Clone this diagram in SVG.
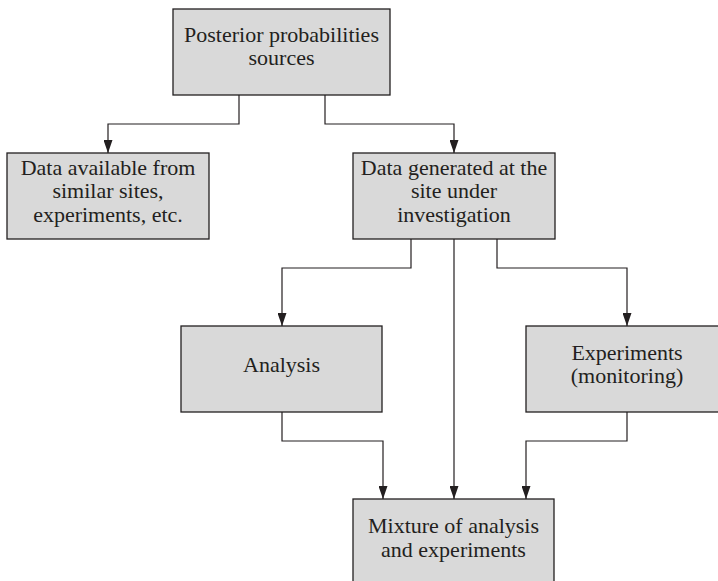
<svg xmlns="http://www.w3.org/2000/svg" width="718" height="581" viewBox="0 0 718 581">
  <style>
    .box { fill: #d9d9d9; stroke: #231f20; stroke-width: 1.3; }
    .lbl { font-family: "Liberation Serif", "Times New Roman", serif; font-size: 22px; fill: #231f20; text-anchor: middle; }
    .wire { fill: none; stroke: #231f20; stroke-width: 1.2; marker-end: url(#arrow); }
  </style>
  <defs>
    <marker id="arrow" markerUnits="userSpaceOnUse" markerWidth="13" markerHeight="9" viewBox="0 0 13 9" refX="13" refY="4.5" orient="auto">
      <path d="M0,0 L13,4.5 L0,9 Z" fill="#231f20"/>
    </marker>
  </defs>
  <rect width="718" height="581" fill="#ffffff"/>

  <g id="connectors">
    <path class="wire" d="M239,95 V124 H108 V153"/>
    <path class="wire" d="M325,95 V124 H454 V153"/>
    <path class="wire" d="M411,239 V268 H282 V326"/>
    <path class="wire" d="M497,239 V268 H627 V326"/>
    <path class="wire" d="M454,239 V499"/>
    <path class="wire" d="M282,412 V441 H383 V499"/>
    <path class="wire" d="M627,412 V441 H526 V499"/>
  </g>

  <g id="posterior-sources">
    <rect class="box" x="173" y="9" width="217" height="86"/>
    <text class="lbl" x="281.5" y="42">Posterior probabilities</text>
    <text class="lbl" x="281.5" y="65">sources</text>
  </g>

  <g id="similar-sites">
    <rect class="box" x="7" y="153" width="202" height="86"/>
    <text class="lbl" x="108" y="175">Data available from</text>
    <text class="lbl" x="108" y="198">similar sites,</text>
    <text class="lbl" x="108" y="222">experiments, etc.</text>
  </g>

  <g id="site-data">
    <rect class="box" x="353" y="153" width="202" height="86"/>
    <text class="lbl" x="454" y="175">Data generated at the</text>
    <text class="lbl" x="454" y="198">site under</text>
    <text class="lbl" x="454" y="222">investigation</text>
  </g>

  <g id="analysis">
    <rect class="box" x="181" y="326" width="201" height="86"/>
    <text class="lbl" x="281.5" y="372">Analysis</text>
  </g>

  <g id="experiments">
    <rect class="box" x="526" y="326" width="202" height="86"/>
    <text class="lbl" x="627" y="360">Experiments</text>
    <text class="lbl" x="627" y="383">(monitoring)</text>
  </g>

  <g id="mixture">
    <rect class="box" x="353" y="499" width="201" height="90"/>
    <text class="lbl" x="453.5" y="533">Mixture of analysis</text>
    <text class="lbl" x="453.5" y="557">and experiments</text>
  </g>
</svg>
